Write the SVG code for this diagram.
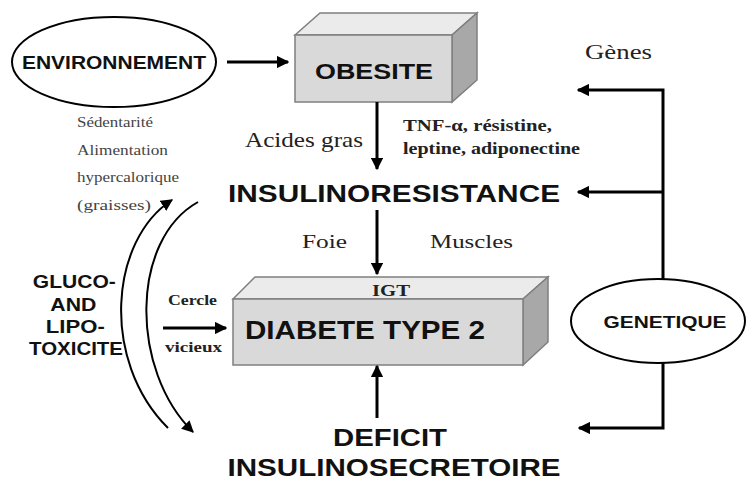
<svg xmlns="http://www.w3.org/2000/svg" width="746" height="481" viewBox="0 0 746 481">
<defs>
<marker id="ah" viewBox="0 0 10 10" refX="9" refY="5" markerWidth="4.2" markerHeight="4.2" orient="auto" markerUnits="strokeWidth">
<path d="M0,0 L10,5 L0,10 Z" fill="#000"/>
</marker>
<marker id="ah2" viewBox="0 0 10 10" refX="9" refY="5" markerWidth="6" markerHeight="6" orient="auto" markerUnits="strokeWidth">
<path d="M0,0 L10,5 L0,10 Z" fill="#000"/>
</marker>
</defs>
<style>
.b{font-family:"Liberation Sans",Arial,sans-serif;font-weight:bold;fill:#111}
.s{font-family:"Liberation Serif","Times New Roman",serif;fill:#222}
.sm{font-family:"Liberation Serif","Times New Roman",serif;fill:#444;font-size:14px}
.ar{stroke:#000;stroke-width:3;fill:none;marker-end:url(#ah)}
.cv{stroke:#000;stroke-width:2;fill:none;marker-end:url(#ah2)}
.front{fill:#d9d9d9;stroke:#7f7f7f;stroke-width:1.5}
.top{fill:#ebebeb;stroke:#7f7f7f;stroke-width:1.5}
.side{fill:#a8a8a8;stroke:#7f7f7f;stroke-width:1.5}
.ell{fill:#fff;stroke:#000;stroke-width:2}
</style>
<rect width="746" height="481" fill="#fff"/>
<g id="environnement">
<ellipse class="ell" cx="114" cy="62" rx="102" ry="45"/>
<text class="b" x="114" y="69" font-size="19" text-anchor="middle" textLength="184" lengthAdjust="spacingAndGlyphs">ENVIRONNEMENT</text>
</g>
<g id="obesite">
<polygon class="top" points="295,35 320,13 477,13 452,35"/>
<polygon class="side" points="452,35 477,13 477,80 452,102"/>
<rect class="front" x="295" y="35" width="157" height="67"/>
<text class="b" x="374" y="79" font-size="22" text-anchor="middle" textLength="118" lengthAdjust="spacingAndGlyphs">OBESITE</text>
</g>
<g id="insulinoresistance">
<text class="b" x="394" y="202" font-size="24" text-anchor="middle" textLength="332" lengthAdjust="spacingAndGlyphs">INSULINORESISTANCE</text>
</g>
<g id="diabete">
<polygon class="top" points="233,299 255,277 548,277 523,299"/>
<polygon class="side" points="523,299 548,277 548,342 523,365"/>
<rect class="front" x="233" y="299" width="290" height="66"/>
<text class="b" x="365" y="339" font-size="25" text-anchor="middle" textLength="240" lengthAdjust="spacingAndGlyphs">DIABETE TYPE 2</text>
<text class="s" x="391" y="296" font-size="16" font-weight="bold" text-anchor="middle" textLength="38" lengthAdjust="spacingAndGlyphs">IGT</text>
</g>
<g id="deficit">
<text class="b" x="390" y="446" font-size="24" text-anchor="middle" textLength="114" lengthAdjust="spacingAndGlyphs">DEFICIT</text>
<text class="b" x="394" y="476" font-size="24" text-anchor="middle" textLength="333" lengthAdjust="spacingAndGlyphs">INSULINOSECRETOIRE</text>
</g>
<g id="genetique">
<ellipse class="ell" cx="658" cy="321" rx="87" ry="42"/>
<text class="b" x="665" y="328" font-size="17" text-anchor="middle" textLength="123" lengthAdjust="spacingAndGlyphs">GENETIQUE</text>
</g>
<g id="glucotox">
<text class="b" font-size="19" text-anchor="middle">
<tspan x="77" y="288" textLength="83" lengthAdjust="spacingAndGlyphs">GLUCO-</tspan>
<tspan x="76" y="311" textLength="46" lengthAdjust="spacingAndGlyphs">AND</tspan>
<tspan x="78" y="333" textLength="59" lengthAdjust="spacingAndGlyphs">LIPO-</tspan>
<tspan x="76" y="355" textLength="94" lengthAdjust="spacingAndGlyphs">TOXICITE</tspan>
</text>
</g>
<g id="labels">
<text class="sm" x="77" y="127" textLength="76" lengthAdjust="spacingAndGlyphs">Sédentarité</text>
<text class="sm" x="77" y="155" textLength="91" lengthAdjust="spacingAndGlyphs">Alimentation</text>
<text class="sm" x="77" y="182" textLength="102" lengthAdjust="spacingAndGlyphs">hypercalorique</text>
<text class="sm" x="77" y="210" textLength="74" lengthAdjust="spacingAndGlyphs">(graisses)</text>
<text class="s" x="304" y="147" font-size="21" text-anchor="middle" textLength="118" lengthAdjust="spacingAndGlyphs">Acides gras</text>
<text class="s" x="403" y="131" font-size="17" font-weight="bold" textLength="149" lengthAdjust="spacingAndGlyphs">TNF-α, résistine,</text>
<text class="s" x="403" y="154" font-size="17" font-weight="bold" textLength="177" lengthAdjust="spacingAndGlyphs">leptine, adiponectine</text>
<text class="s" x="585" y="59" font-size="20" textLength="67" lengthAdjust="spacingAndGlyphs">Gènes</text>
<text class="s" x="302" y="248" font-size="19" textLength="45" lengthAdjust="spacingAndGlyphs">Foie</text>
<text class="s" x="430" y="248" font-size="19" textLength="83" lengthAdjust="spacingAndGlyphs">Muscles</text>
<text class="s" x="168" y="305" font-size="15" font-weight="bold" textLength="49" lengthAdjust="spacingAndGlyphs">Cercle</text>
<text class="s" x="165" y="352" font-size="15" font-weight="bold" textLength="57" lengthAdjust="spacingAndGlyphs">vicieux</text>
</g>
<g id="connectors">
<line class="ar" x1="227" y1="62" x2="288" y2="62"/>
<line class="ar" x1="377" y1="102" x2="377" y2="169"/>
<line class="ar" x1="377" y1="210" x2="377" y2="274"/>
<line class="ar" x1="377" y1="418" x2="377" y2="366"/>
<line class="ar" x1="163" y1="328" x2="226" y2="328"/>
<polyline class="ar" points="663,280 663,90 578,90"/>
<line class="ar" x1="663" y1="192" x2="578" y2="192"/>
<polyline class="ar" points="663,363 663,428 579,428"/>
<path class="cv" d="M168,428 C100,360 110,240 172,200"/>
<path class="cv" d="M198,202 C130,240 130,370 193,432"/>
</g>
</svg>
